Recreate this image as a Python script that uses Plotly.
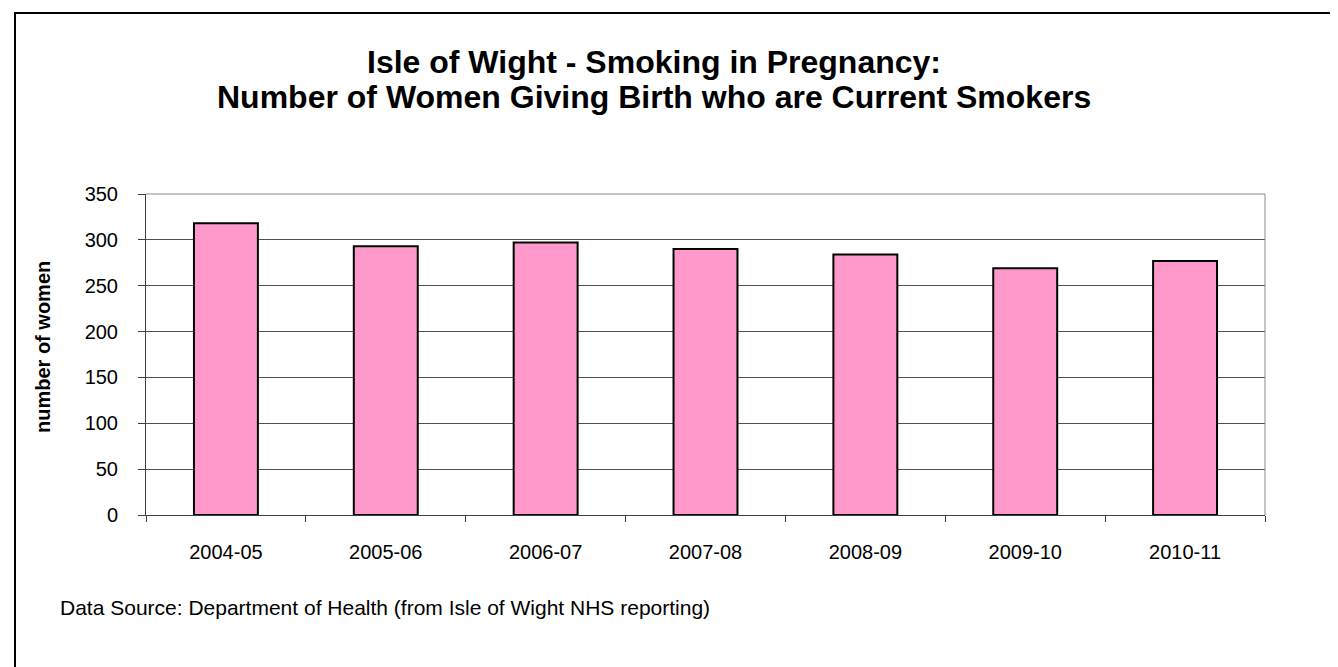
"""Isle of Wight smoking in pregnancy bar chart."""

import plotly.graph_objects as go

years = ["2004-05", "2005-06", "2006-07", "2007-08", "2008-09", "2009-10", "2010-11"]
smokers = [318, 293, 297, 290, 284, 269, 277]
y_ticks = [0, 50, 100, 150, 200, 250, 300, 350]
title_lines = [
    "Isle of Wight - Smoking in Pregnancy:",
    "Number of Women Giving Birth who are Current Smokers",
]

W, H = 1338, 667
OFF = 8  # default body margin of the html page
# plot area in viewport pixels
L, R, T, B = 146, 1265, 194, 515
FONT = "Liberation Sans, Arial, sans-serif"


def fx(px):
    return (px - L) / (R - L)


def fy(py):
    return (B - py) / (B - T)


fig = go.Figure(
    go.Bar(
        x=years,
        y=smokers,
        marker=dict(color="#FF99CC", line=dict(color="black", width=2)),
        width=0.4,
    )
)

fig.update_layout(
    width=W - OFF,
    height=H - OFF,
    paper_bgcolor="white",
    plot_bgcolor="white",
    margin=dict(l=L - OFF, r=W - R, t=T - OFF, b=H - B),
    font=dict(family=FONT, size=20, color="black"),
    showlegend=False,
)

fig.update_xaxes(
    type="category",
    showline=True,
    linecolor="#404040",
    linewidth=1,
    ticks="outside",
    tickson="boundaries",
    ticklen=6,
    tickcolor="#404040",
    showgrid=False,
    tickfont=dict(size=20),
    ticklabelstandoff=19,
)

fig.update_yaxes(
    range=[0, 350],
    tickvals=y_ticks,
    showline=True,
    linecolor="#404040",
    linewidth=1,
    ticks="outside",
    ticklen=7,
    tickcolor="#404040",
    showgrid=True,
    gridcolor="#505050",
    gridwidth=1,
    zeroline=False,
    tickfont=dict(size=20),
    ticklabelstandoff=16,
)

for line, ypx in zip(title_lines, [62, 97]):
    fig.add_annotation(
        text=f"<b>{line}</b>",
        xref="paper",
        yref="paper",
        x=fx(654),
        y=fy(ypx),
        xanchor="center",
        yanchor="middle",
        showarrow=False,
        font=dict(size=32),
    )

fig.add_annotation(
    text="<b>number of women</b>",
    textangle=-90,
    xref="paper",
    yref="paper",
    x=fx(43),
    y=fy(347),
    xanchor="center",
    yanchor="middle",
    showarrow=False,
    font=dict(size=20),
)

fig.add_annotation(
    text="Data Source: Department of Health (from Isle of Wight NHS reporting)",
    xref="paper",
    yref="paper",
    x=fx(58),
    y=fy(607),
    xanchor="left",
    yanchor="middle",
    showarrow=False,
    font=dict(size=21),
)

# grey frame on top and right of the plot area
fig.add_shape(type="line", xref="paper", yref="paper", x0=0, x1=1, y0=1, y1=1,
              line=dict(color="#888888", width=1))
fig.add_shape(type="line", xref="paper", yref="paper", x0=1, x1=1, y0=0, y1=1,
              line=dict(color="#888888", width=1))

# outer chart border
fig.add_shape(type="rect", xref="paper", yref="paper",
              x0=fx(15), x1=fx(1333), y0=fy(700), y1=fy(13),
              line=dict(color="black", width=2), layer="below")

fig.write_html("out.html")
